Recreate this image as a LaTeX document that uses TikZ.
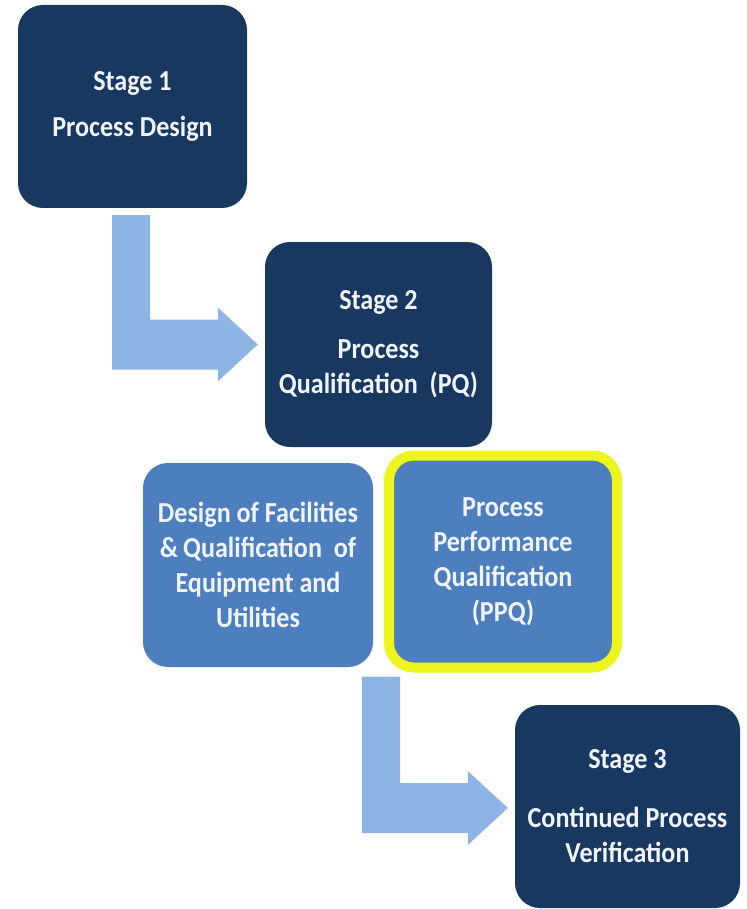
\documentclass[tikz,border=0pt]{standalone}
\usepackage{fontspec}
\usetikzlibrary{calc}
\newfontfamily\boxfont{Carlito}[FakeStretch=0.9]
\definecolor{navy}{RGB}{24,56,96}
\definecolor{midblue}{RGB}{77,127,190}
\definecolor{arrowblue}{RGB}{141,180,226}
\definecolor{glow}{RGB}{236,245,30}
\definecolor{boxtext}{RGB}{240,244,250}
\begin{document}
\begin{tikzpicture}[x=1pt,y=-1pt,
  stagebox/.style={rounded corners=25pt, inner sep=0pt, align=center,
    text=boxtext, font=\boxfont\bfseries\fontsize{29}{35}\selectfont},
  darkbox/.style={stagebox, fill=navy},
  lightbox/.style={stagebox, fill=midblue},
  blockarrow/.style={fill=arrowblue, draw=none}]
\useasboundingbox (0,0) rectangle (746,909);
\fill[white] (0,0) rectangle (746,909);

% stage boxes
\node[darkbox, minimum width=229pt, minimum height=203pt] (s1) at (132.5,106.5)
  {Stage 1\\[11pt]Process Design};
\node[darkbox, minimum width=227pt, minimum height=205pt] (s2) at (378.5,344.5)
  {Stage 2\\[14pt]Process\\Qualification\ \ (PQ)};
\node[lightbox, minimum width=230pt, minimum height=204pt] (dfq) at (258,565)
  {Design of Facilities\\\&\,Qualification\ \ of\\Equipment and\\Utilities};
\node[lightbox, draw=glow, line width=10pt, minimum width=228pt, minimum height=212pt] (ppq) at (503,561.5)
  {Process\\Performance\\Qualification\\(PPQ)};
\node[darkbox, minimum width=225pt, minimum height=203pt] (s3) at (627.5,806.5)
  {Stage 3\\[24pt]Continued Process\\Verification};

% bent block arrows
\coordinate (a1s) at ([xshift=-1.5pt,yshift=-7pt]s1.south);
\coordinate (a1t) at ([xshift=-7pt]s2.west);
\coordinate (a2s) at ([xshift=-3pt,yshift=-4pt]ppq.south west);
\coordinate (a2t) at ([xshift=-7pt,yshift=-1.5pt]s3.west);
\foreach \s/\t in {a1s/a1t, a2s/a2t}{
  \fill[blockarrow] ($(\s)+(-19,0)$) -- ($(\s)+(19,0)$) -- ($(\s|-\t)+(19,-25)$)
    -- ($(\t)+(-40,-25)$) -- ($(\t)+(-40,-37)$) -- (\t) -- ($(\t)+(-40,37)$)
    -- ($(\t)+(-40,25)$) -- ($(\s|-\t)+(-19,25)$) -- cycle;
}
\end{tikzpicture}
\end{document}
